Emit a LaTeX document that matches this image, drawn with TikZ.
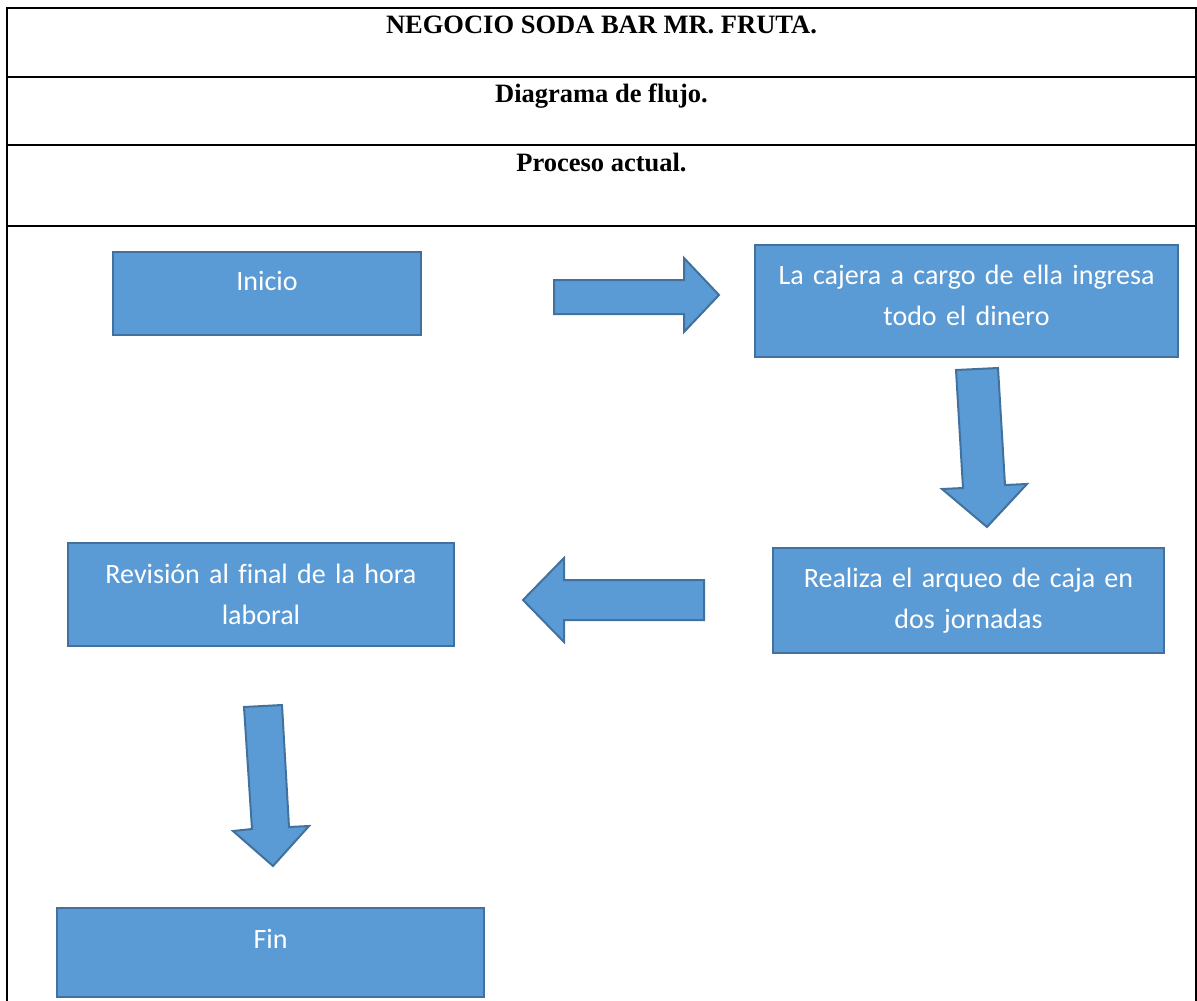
\documentclass[tikz,border=0pt]{standalone}
\usepackage{fontspec}
\setmainfont{Liberation Serif}
\newfontfamily\boxfont[Ligatures=NoCommon]{Carlito}
\usetikzlibrary{calc}

\definecolor{boxfill}{HTML}{5B9BD5}
\definecolor{boxline}{HTML}{41719C}

\tikzset{
  rule/.style={line width=2pt, black},
  stepbox/.style={draw=boxline, fill=boxfill, line width=2pt, inner sep=0pt},
  boxtext/.style={text=white, anchor=base, align=center, inner sep=0pt,
                  font=\boxfont\fontsize{28}{41}\selectfont},
  headtext/.style={anchor=base, inner sep=0pt,
                   font=\bfseries\fontsize{26.5}{30}\selectfont},
  blockarrow/.style={draw=boxline, fill=boxfill, line width=2pt, line join=miter}
}

\begin{document}
\begin{tikzpicture}[x=1pt, y=-1pt]
  \useasboundingbox (0,0) rectangle (1197,1001);

  % table frame
  \draw[rule] (7,1001) -- (7,8) -- (1196,8) -- (1196,1001);
  \draw[rule] (7,77) -- (1196,77);
  \draw[rule] (7,145) -- (1196,145);
  \draw[rule] (7,226) -- (1196,226);

  % header rows
  \node[headtext] (title) at (601.5,33) {NEGOCIO SODA BAR MR. FRUTA.};
  \node[headtext] (subtitle) at (601.5,102) {Diagrama de flujo.};
  \node[headtext] (process) at (601.5,171) {Proceso actual.};

  % process boxes
  \path[stepbox] (113,252) rectangle (421,335);
  \coordinate (inicio) at (267,252);
  \node[boxtext] (inicioT) at ($(inicio)+(0,38)$) {Inicio};

  \path[stepbox] (755,245) rectangle (1178,357);
  \coordinate (cajera) at (966.5,245);
  \node[boxtext, text width=430pt] (cajeraT) at ($(cajera)+(0,39)$)
    {La cajera a cargo de ella ingresa\\todo el dinero};

  \path[stepbox] (773,548) rectangle (1164,653);
  \coordinate (arqueo) at (968.5,548);
  \node[boxtext, text width=400pt] (arqueoT) at ($(arqueo)+(0,39)$)
    {Realiza el arqueo de caja en\\dos jornadas};

  \path[stepbox] (68,543) rectangle (454,646);
  \coordinate (revision) at (261,543);
  \node[boxtext, text width=400pt] (revisionT) at ($(revision)+(0,40)$)
    {Revisión al final de la hora\\laboral};

  \path[stepbox] (57,908) rectangle (484,997);
  \coordinate (fin) at (270.5,908);
  \node[boxtext] (finT) at ($(fin)+(0,40)$) {Fin};

  % block arrows
  \draw[blockarrow] (554,280) -- (684,280) -- (684,258) -- (719,295)
    -- (684,332) -- (684,314) -- (554,314) -- cycle;
  \draw[blockarrow] (956,370) -- (998,368) -- (1005,485) -- (1027,484)
    -- (987,527) -- (942,489) -- (963,488) -- cycle;
  \draw[blockarrow] (704,580) -- (564,580) -- (564,558) -- (523,600)
    -- (564,642) -- (564,620) -- (704,620) -- cycle;
  \draw[blockarrow] (244,707) -- (282,705) -- (289,827) -- (309,826)
    -- (273,866) -- (233,831) -- (252,829) -- cycle;
\end{tikzpicture}
\end{document}
